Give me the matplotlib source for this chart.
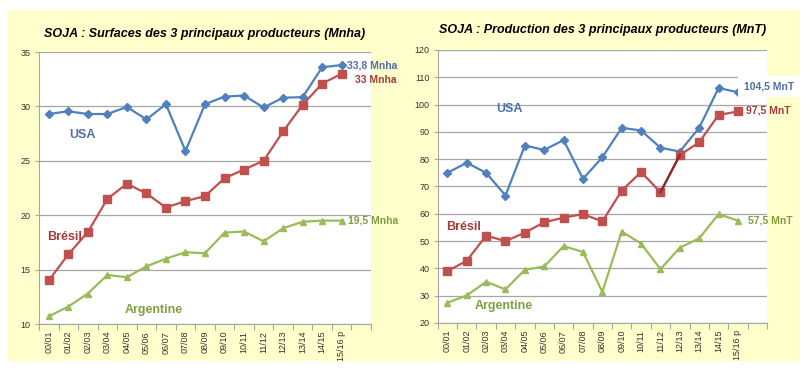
import matplotlib.pyplot as plt

plt.rcParams['font.family'] = ['Liberation Sans', 'DejaVu Sans']

# Données
campagnes = ['00/01', '01/02', '02/03', '03/04', '04/05', '05/06', '06/07', '07/08',
             '08/09', '09/10', '10/11', '11/12', '12/13', '13/14', '14/15', '15/16 p']

surf_usa = [29.3, 29.55, 29.3, 29.3, 29.95, 28.8, 30.2, 25.9, 30.2, 30.9, 31.0, 29.9,
            30.8, 30.85, 33.6, 33.8]
surf_bresil = [14.0, 16.4, 18.45, 21.5, 22.9, 22.0, 20.7, 21.3, 21.75, 23.4, 24.2, 25.0,
               27.7, 30.15, 32.1, 33.0]
surf_argentine = [10.7, 11.6, 12.8, 14.5, 14.3, 15.3, 16.0, 16.6, 16.5, 18.4, 18.5, 17.6,
                  18.8, 19.4, 19.5, 19.5]

prod_usa = [75.0, 78.7, 75.0, 66.7, 85.0, 83.4, 87.0, 72.8, 80.7, 91.5, 90.5, 84.2,
            82.8, 91.5, 106.1, 104.5]
prod_bresil = [39.0, 42.8, 52.0, 50.0, 53.1, 56.9, 58.6, 59.9, 57.2, 68.5, 75.3, 67.9,
               81.5, 86.2, 96.2, 97.5]
prod_argentine = [27.4, 30.1, 35.1, 32.3, 39.5, 40.7, 48.2, 46.0, 31.4, 53.5, 49.1, 39.7,
                  47.6, 51.0, 59.9, 57.5]

BLEU = '#4F81BD'
ROUGE = '#C0504D'
VERT = '#9BBB59'
FOND = '#FFFFCC'

fig = plt.figure(figsize=(8.05, 3.68), dpi=100)
# fond jaune des deux graphiques
fond = plt.Rectangle((8 / 805, 8 / 368), 790 / 805, 350 / 368,
                     transform=fig.transFigure, color=FOND, zorder=-10)
fig.patches.append(fond)

ax1 = fig.add_axes([39 / 805, 1 - 324 / 368, 332 / 805, 272 / 368])
ax2 = fig.add_axes([437.7 / 805, 1 - 323 / 368, 329.3 / 805, 273 / 368])

x = list(range(len(campagnes)))


def habillage(ax, ymin, ymax, pas):
    ax.set_facecolor('white')
    ax.set_xlim(-0.5, len(campagnes) + 0.5)
    ax.set_ylim(ymin, ymax)
    ax.set_yticks(range(ymin, ymax + 1, pas))
    ax.yaxis.grid(True, color='#A6A6A6', linewidth=0.9)
    ax.set_axisbelow(True)
    for s in ['top', 'right']:
        ax.spines[s].set_visible(False)
    for s in ['left', 'bottom']:
        ax.spines[s].set_color('#A6A6A6')
    ax.tick_params(axis='y', length=3, color='#A6A6A6', labelsize=6.5,
                   labelcolor='#333333', pad=3)
    # ticks entre les catégories, libellés au centre
    ax.set_xticks([i - 0.5 for i in range(len(campagnes) + 2)])
    ax.set_xticklabels([])
    ax.tick_params(axis='x', which='major', length=4, color='#A6A6A6')
    ax.set_xticks(x, minor=True)
    ax.set_xticklabels(campagnes, minor=True, rotation=90, fontsize=6.5,
                       color='#333333')
    ax.tick_params(axis='x', which='minor', length=0, pad=5)


# Surfaces
habillage(ax1, 10, 35, 5)
ax1.plot(x, surf_usa, color=BLEU, lw=1.6, marker='D', ms=4)
ax1.plot(x, surf_bresil, color=ROUGE, lw=1.6, marker='s', ms=5.2)
ax1.plot(x, surf_argentine, color=VERT, lw=1.6, marker='^', ms=5)
ax1.set_title('SOJA : Surfaces des 3 principaux producteurs (Mnha)', fontsize=9,
              fontweight='bold', style='italic', pad=11)
ax1.text(1.7, 27.4, 'USA', color='#4F6FA8', fontsize=9, fontweight='bold',
         ha='center', va='center')
ax1.text(0.83, 18.0, 'Brésil', color='#A33B3B', fontsize=9, fontweight='bold',
         ha='center', va='center')
ax1.text(5.4, 11.3, 'Argentine', color='#7F9F3F', fontsize=9, fontweight='bold',
         ha='center', va='center')
ax1.annotate('33,8 Mnha', (x[-1], surf_usa[-1]), xytext=(5, 0),
             textcoords='offset pixels', color='#4F6FA8', fontsize=7.5,
             fontweight='bold', va='center', annotation_clip=False)
ax1.annotate('33 Mnha', (x[-1], surf_bresil[-1]), xytext=(13, -6),
             textcoords='offset pixels', color='#A33B3B', fontsize=7.5,
             fontweight='bold', va='center', annotation_clip=False)
ax1.annotate('19,5 Mnha', (x[-1], surf_argentine[-1]), xytext=(6, 0),
             textcoords='offset pixels', color='#7F9F3F', fontsize=7.5,
             fontweight='bold', va='center', annotation_clip=False)

# Production
habillage(ax2, 20, 120, 10)
ax2.plot(x, prod_usa, color=BLEU, lw=1.6, marker='D', ms=4)
ax2.plot(x, prod_bresil, color=ROUGE, lw=1.6, marker='s', ms=5.2)
ax2.plot(x[11:13], prod_bresil[11:13], color='#8B2C2C', lw=1.6)
ax2.plot(x, prod_argentine, color=VERT, lw=1.6, marker='^', ms=5)
ax2.set_title('SOJA : Production des 3 principaux producteurs (MnT)', fontsize=9,
              fontweight='bold', style='italic', pad=12)
ax2.text(3.2, 98.4, 'USA', color='#4F6FA8', fontsize=9, fontweight='bold',
         ha='center', va='center')
ax2.text(0.85, 55.2, 'Brésil', color='#A33B3B', fontsize=9, fontweight='bold',
         ha='center', va='center')
ax2.text(2.9, 26.2, 'Argentine', color='#7F9F3F', fontsize=9, fontweight='bold',
         ha='center', va='center')
ax2.annotate('104,5 MnT', (x[-1], prod_usa[-1]), xytext=(6, 6),
             textcoords='offset pixels', color='#4F6FA8', fontsize=7.5,
             fontweight='bold', va='center', annotation_clip=False,
             bbox=dict(facecolor='white', edgecolor='none', pad=4))
ax2.annotate('97,5 MnT', (x[-1], prod_bresil[-1]), xytext=(8, 1),
             textcoords='offset pixels', color='#A33B3B', fontsize=7.5,
             fontweight='bold', va='center', annotation_clip=False)
ax2.annotate('57,5 MnT', (x[-1], prod_argentine[-1]), xytext=(10, 0),
             textcoords='offset pixels', color='#7F9F3F', fontsize=7.5,
             fontweight='bold', va='center', annotation_clip=False)

fig.savefig('out.png', dpi=100)
